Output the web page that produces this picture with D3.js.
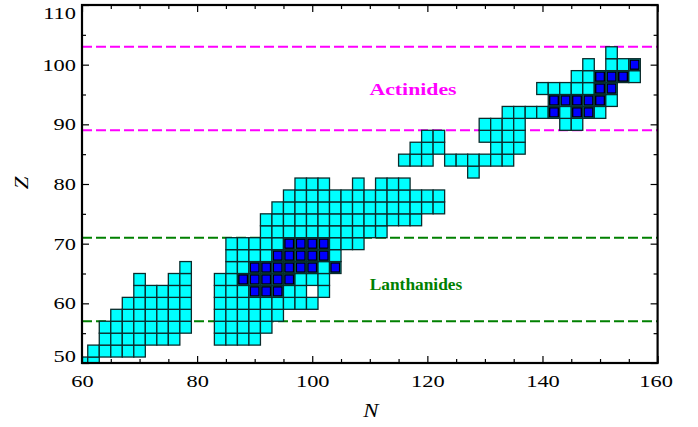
<!DOCTYPE html>
<html><head><meta charset="utf-8">
<script src="https://cdn.jsdelivr.net/npm/d3@7/dist/d3.min.js"></script>
<style>body{margin:0;background:#fff}svg{display:block}</style>
</head><body>
<svg id="c" width="698" height="427"></svg>
<script>
// ---- data (N values per proton number Z) ----
const xTicks = [60, 80, 100, 120, 140, 160];
const yTicks = [50, 60, 70, 80, 90, 100, 110];
const lanthanideLines = [57, 71];
const actinideLines = [89, 103];

const lightGroup = [
  [50, [60, 62]],
  [52, [62, 64, 66, 68, 70]],
  [54, [64, 66, 68, 70, 72, 74, 76]],
  [56, [64, 66, 68, 70, 72, 74, 76, 78]],
  [58, [66, 68, 70, 72, 74, 76, 78]],
  [60, [68, 70, 72, 74, 76, 78]],
  [62, [70, 72, 74, 76, 78]],
  [64, [70, 76, 78]],
  [66, [78]]
];
const midGroup = [
  [54, [84, 86, 88, 90]],
  [56, [84, 86, 88, 90, 92]],
  [58, [84, 86, 88, 90, 92, 94]],
  [60, [84, 86, 88, 90, 92, 94, 96, 98, 100]],
  [62, [84, 86, 88, 90, 92, 94, 96, 98, 102]],
  [64, [84, 86, 88, 90, 92, 94, 96, 98, 100, 102]],
  [66, [86, 88, 90, 92, 94, 96, 98, 100, 102, 104]],
  [68, [86, 88, 90, 92, 94, 96, 98, 100, 102, 104]],
  [70, [86, 88, 90, 92, 94, 96, 98, 100, 102, 104, 106, 108]],
  [72, [92, 94, 96, 98, 100, 102, 104, 106, 108, 110, 112]],
  [74, [92, 94, 96, 98, 100, 102, 104, 106, 108, 110, 112, 114, 116, 118]],
  [76, [94, 96, 98, 100, 102, 104, 106, 108, 110, 112, 114, 116, 118, 120, 122]],
  [78, [96, 98, 100, 102, 104, 106, 108, 110, 112, 114, 116, 118, 120, 122]],
  [80, [98, 100, 102, 108, 112, 114, 116]]
];
const heavyGroup = [
  [82, [128]],
  [84, [116, 118, 120, 124, 126, 128, 130, 132, 134]],
  [86, [118, 120, 122, 132, 134, 136]],
  [88, [120, 122, 130, 132, 134, 136]],
  [90, [130, 132, 134, 136, 144, 146]],
  [92, [134, 136, 138, 140, 142, 144, 146, 148, 150]],
  [94, [142, 144, 146, 148, 150, 152]],
  [96, [140, 142, 144, 146, 148, 150, 152]],
  [98, [146, 148, 150, 152, 154, 156]],
  [100, [148, 152, 154, 156]],
  [102, [152]]
];
const blueMid = [
  [62, [90, 92, 94]],
  [64, [88, 90, 92, 94, 96]],
  [66, [90, 92, 94, 96, 98, 100, 104]],
  [68, [94, 96, 98, 100, 102]],
  [70, [96, 98, 100, 102]]
];
const blueHeavy = [
  [92, [142, 146, 148]],
  [94, [142, 144, 146, 148, 150]],
  [96, [150, 152]],
  [98, [150, 152, 154]],
  [100, [156]]
];

// ---- drawing ----
const svg = d3.select('#c');
const x = d3.scaleLinear().domain([60, 160]).range([82, 657.6]);
const y = d3.scaleLinear().domain([50, 110]).range([363, 5]);
const FONT = "'Liberation Serif','Times New Roman',serif";

const flat = rows => rows.flatMap(([z, ns]) => ns.map(n => ({n, z})));
const cyan = flat(lightGroup).concat(flat(midGroup), flat(heavyGroup));
const blue = flat(blueMid).concat(flat(blueHeavy));

svg.append('clipPath').attr('id', 'clip').append('rect')
  .attr('x', x(60)).attr('y', y(110)).attr('width', x(160) - x(60)).attr('height', y(50) - y(110));

// reference lines
const lines = svg.append('g');
lines.selectAll('.lan').data(lanthanideLines).enter().append('line')
  .attr('x1', x(60)).attr('x2', x(160)).attr('y1', d => y(d)).attr('y2', d => y(d))
  .attr('stroke', '#008000').attr('stroke-width', 2).attr('stroke-dasharray', '10,4');
lines.selectAll('.act').data(actinideLines).enter().append('line')
  .attr('x1', x(60)).attr('x2', x(160)).attr('y1', d => y(d)).attr('y2', d => y(d))
  .attr('stroke', '#ff00ff').attr('stroke-width', 2).attr('stroke-dasharray', '10,4');

const cells = svg.append('g').attr('clip-path', 'url(#clip)');
cells.selectAll('.cy').data(cyan).enter().append('rect')
  .attr('x', d => x(d.n - 1)).attr('y', d => y(d.z + 1))
  .attr('width', d => x(d.n + 1) - x(d.n - 1)).attr('height', d => y(d.z - 1) - y(d.z + 1))
  .attr('fill', '#00ffff').attr('stroke', '#0b2b2b').attr('stroke-width', 1.3);
cells.selectAll('.bl').data(blue).enter().append('rect')
  .attr('x', d => x(d.n - 1) + 1.4).attr('y', d => y(d.z + 1) + 1.4)
  .attr('width', d => x(d.n + 1) - x(d.n - 1) - 2.8).attr('height', d => y(d.z - 1) - y(d.z + 1) - 2.8)
  .attr('fill', '#0000ff').attr('stroke', '#000').attr('stroke-width', 1.4);

// annotations
svg.append('text').attr('class', 'st').attr('data-k', 1.28).attr('x', 413).attr('y', 89).attr('dy', '0.35em')
  .attr('text-anchor', 'middle').attr('font-family', FONT).attr('font-weight', 'bold')
  .attr('font-size', 17).attr('fill', '#ff00ff').text('Actinides');
svg.append('text').attr('class', 'st').attr('data-k', 1.02).attr('x', 416).attr('y', 284).attr('dy', '0.35em')
  .attr('text-anchor', 'middle').attr('font-family', FONT).attr('font-weight', 'bold')
  .attr('font-size', 17).attr('fill', '#008000').text('Lanthanides');

// axes (ticks inward)
const minorX = d3.range(65, 160, 5).filter(v => v % 20 !== 0);
const minorY = d3.range(55, 110, 5).filter(v => v % 10 !== 0);
const ax = svg.append('g');
ax.append('g').attr('transform', `translate(0,${y(50)})`)
  .call(d3.axisBottom(x).tickValues(minorX).tickSize(-4).tickFormat(''));
ax.append('g').attr('transform', `translate(0,${y(110)})`)
  .call(d3.axisTop(x).tickValues(minorX).tickSize(-4).tickFormat(''));
ax.append('g').attr('transform', `translate(0,${y(110)})`)
  .call(d3.axisTop(x).tickValues(xTicks).tickSize(-7).tickFormat(''));
ax.append('g').attr('transform', `translate(${x(60)},0)`)
  .call(d3.axisLeft(y).tickValues(minorY).tickSize(-4).tickFormat(''));
ax.append('g').attr('transform', `translate(${x(160)},0)`)
  .call(d3.axisRight(y).tickValues(minorY).tickSize(-4).tickFormat(''));
ax.append('g').attr('transform', `translate(${x(160)},0)`)
  .call(d3.axisRight(y).tickValues(yTicks).tickSize(-7).tickFormat(''));

const bottom = ax.append('g').attr('transform', `translate(0,${y(50)})`)
  .call(d3.axisBottom(x).tickValues(xTicks).tickSize(-7).tickPadding(8));
const left = ax.append('g').attr('transform', `translate(${x(60)},0)`)
  .call(d3.axisLeft(y).tickValues(yTicks).tickSize(-7).tickPadding(6));
ax.selectAll('.domain').remove();
ax.selectAll('.tick line').attr('stroke', '#000').attr('stroke-width', 1.2);
ax.selectAll('.tick text').attr('class', 'st').attr('data-k', 1.28).attr('font-family', FONT)
  .attr('font-size', 17.5).attr('fill', '#000');
bottom.selectAll('.tick text').attr('dy', '0.9em');
left.selectAll('.tick text').filter(d => d === 110).attr('dy', '0.75em');
left.selectAll('.tick text').filter(d => d === 50).attr('dy', '-0.1em');
bottom.selectAll('.tick text').filter(d => d === 160).attr('dx', -2);

// frame
svg.append('rect').attr('x', x(60)).attr('y', y(110))
  .attr('width', x(160) - x(60)).attr('height', y(50) - y(110))
  .attr('fill', 'none').attr('stroke', '#000').attr('stroke-width', 2.2);

// axis titles
svg.append('text').attr('class', 'st').attr('data-k', 1.2).attr('x', 371).attr('y', 410).attr('dy', '0.35em')
  .attr('text-anchor', 'middle').attr('font-family', FONT).attr('font-style', 'italic')
  .attr('font-size', 19).text('N');
svg.append('text').attr('class', 'st').attr('data-k', 1.2).attr('transform', 'translate(21,183) rotate(-90)')
  .attr('dy', '0.35em').attr('text-anchor', 'middle').attr('font-family', FONT)
  .attr('font-style', 'italic').attr('font-size', 19).text('Z');

// horizontally widened glyphs as in the reference
svg.selectAll('text.st').each(function () {
  const k = +this.getAttribute('data-k') || 1;
  const w = this.getComputedTextLength();
  d3.select(this).attr('textLength', w * k).attr('lengthAdjust', 'spacingAndGlyphs');
});
</script>
</body></html>
